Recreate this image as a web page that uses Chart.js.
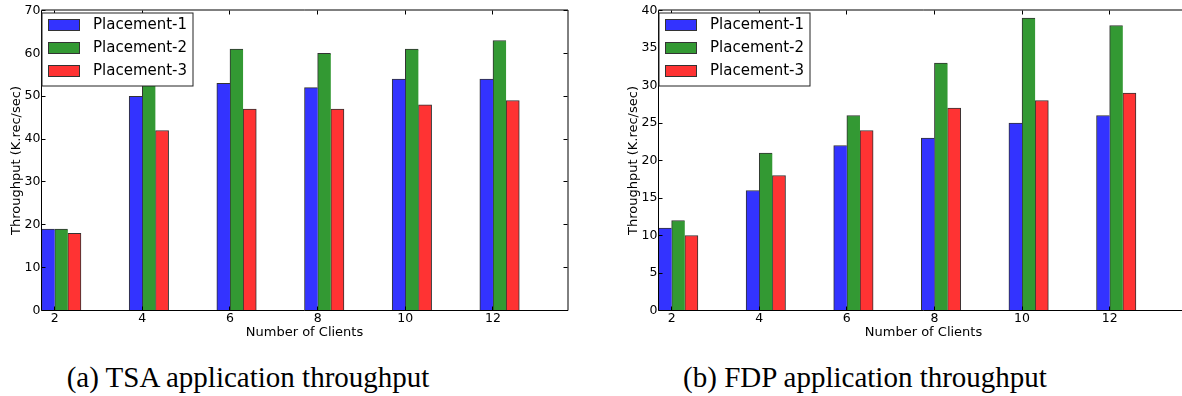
<!DOCTYPE html>
<html>
<head>
<meta charset="utf-8">
<script src="https://cdn.jsdelivr.net/npm/chart.js@4.4.1/dist/chart.umd.min.js"></script>
<style>
  html, body { margin: 0; padding: 0; background: #fff; width: 1182px; height: 396px; overflow: hidden; }
  .panel { position: absolute; top: 0; }
  .caption {
    position: absolute; top: 363px; width: 400px; text-align: center;
    font-family: "Liberation Serif", serif; font-size: 29px; line-height: 29px;
    color: #000; white-space: nowrap;
  }
</style>
</head>
<body>
<canvas id="tsaChart" class="panel" width="590" height="345" style="left:0"></canvas>
<canvas id="fdpChart" class="panel" width="594" height="345" style="left:617px"></canvas>
<div class="caption" style="left:48px">(a) TSA application throughput</div>
<div class="caption" style="left:665px">(b) FDP application throughput</div>
<script>
// data
const clients = [2, 4, 6, 8, 10, 12];
const placements = ["Placement-1", "Placement-2", "Placement-3"];

const tsaP1 = [19, 50, 53, 52, 54, 54];
const tsaP2 = [19, 57, 61, 60, 61, 63];
const tsaP3 = [18, 42, 47, 47, 48, 49];
const tsaYTicks = [0, 10, 20, 30, 40, 50, 60, 70];

const fdpP1 = [11, 16, 22, 23, 25, 26];
const fdpP2 = [12, 21, 26, 33, 39, 38];
const fdpP3 = [10, 18, 24, 27, 28, 29];
const fdpYTicks = [0, 5, 10, 15, 20, 25, 30, 35, 40];

const xTitle = "Number of Clients";
const yTitle = "Throughput (K.rec/sec)";

// styles
const colors = ["#3333ff", "#339933", "#ff3333"];
const BAR_W = 0.3; // bar width in x units (matplotlib style, edge aligned)
const tickFont = { family: "DejaVu Sans", size: 12.5 };
const titleFont = { family: "DejaVu Sans", size: 13 };

// matplotlib-like box with inward ticks + legend in the top-left corner
const framePlugin = {
  id: "frame",
  afterDraw(chart) {
    const { ctx, chartArea: a, scales: { x, y } } = chart;
    ctx.save();
    ctx.strokeStyle = "#000";
    ctx.lineWidth = 1;

    ctx.beginPath();
    for (const t of x.ticks) {
      const px = Math.floor(x.getPixelForValue(t.value)) + 0.5;
      ctx.moveTo(px, a.top);
      ctx.lineTo(px, a.top + 4);
      ctx.moveTo(px, a.bottom);
      ctx.lineTo(px, a.bottom - 4);
    }
    for (const t of y.ticks) {
      const py = Math.round(y.getPixelForValue(t.value) - 0.5) + 0.5;
      ctx.moveTo(a.left, py);
      ctx.lineTo(a.left + 4, py);
      ctx.moveTo(a.right, py);
      ctx.lineTo(a.right - 4, py);
    }
    ctx.stroke();

    // left + bottom spines (crisp), top + right (soft, like the original)
    ctx.beginPath();
    ctx.moveTo(a.left, a.top);
    ctx.lineTo(a.left, a.bottom);
    ctx.lineTo(a.right + 0.5, a.bottom);
    ctx.stroke();
    ctx.beginPath();
    ctx.moveTo(a.left, a.top - 0.5);
    ctx.lineTo(a.right + 0.5, a.top - 0.5);
    ctx.lineTo(a.right + 0.5, a.bottom);
    ctx.stroke();

    // legend
    const bx = Math.round(a.left), by = Math.round(a.top + 2.5);
    ctx.fillStyle = "#fff";
    ctx.fillRect(bx, by, 151, 73);
    ctx.strokeStyle = "#222";
    ctx.strokeRect(bx, by, 151, 73);
    ctx.font = "15px 'DejaVu Sans'";
    ctx.textBaseline = "middle";
    chart.data.datasets.forEach((ds, i) => {
      const cy = by + 12 + i * 23;
      ctx.fillStyle = ds.backgroundColor;
      ctx.fillRect(bx + 6, cy - 5.5, 31.5, 11);
      ctx.strokeStyle = "#333";
      ctx.strokeRect(bx + 6.5, cy - 5.5, 31, 11);
      ctx.fillStyle = "#000";
      ctx.fillText(ds.label, bx + 51, cy + 0.5);
    });
    ctx.restore();
  },
};

function makeChart(id, series, yTicks, xMax) {
  return new Chart(document.getElementById(id), {
    type: "bar",
    data: {
      datasets: series.map((vals, k) => ({
        label: placements[k],
        data: clients.map((c, i) => ({ x: c + (k - 0.5) * BAR_W, y: vals[i] })),
        backgroundColor: colors[k],
        borderColor: "#333",
        borderWidth: { top: 1, left: 1, right: k === series.length - 1 ? 1 : 0, bottom: 0 },
        grouped: false,
        categoryPercentage: 1,
        barPercentage: 1,
      })),
    },
    options: {
      responsive: false,
      animation: false,
      events: [],
      layout: { padding: { top: 10.5, right: 22.5, bottom: 0, left: 0 } },
      plugins: { legend: { display: false }, tooltip: { enabled: false } },
      scales: {
        x: {
          type: "linear",
          offset: false,
          min: 1.7,
          max: xMax,
          afterBuildTicks: (s) => { s.ticks = clients.map((v) => ({ value: v })); },
          afterFit: (s) => { s.height = 34.5; },
          grid: { display: false, drawTicks: false, offset: false },
          border: { display: false },
          ticks: { padding: 1, color: "#000", font: tickFont, maxRotation: 0, autoSkip: false, callback: (v) => String(v) },
          title: { display: true, text: xTitle, color: "#000", font: titleFont, padding: { top: 0, bottom: 5 } },
        },
        y: {
          min: yTicks[0],
          max: yTicks[yTicks.length - 1],
          afterBuildTicks: (s) => { s.ticks = yTicks.map((v) => ({ value: v })); },
          afterFit: (s) => { s.width = 41.5; },
          grid: { display: false, drawTicks: false },
          border: { display: false },
          ticks: { padding: 1, color: "#000", font: tickFont, callback: (v) => String(v) },
          title: { display: true, text: yTitle, color: "#000", font: titleFont, padding: { top: 9, bottom: 0 } },
        },
      },
    },
    plugins: [framePlugin],
  });
}

makeChart("tsaChart", [tsaP1, tsaP2, tsaP3], tsaYTicks, 13.7);
makeChart("fdpChart", [fdpP1, fdpP2, fdpP3], fdpYTicks, 13.8);
</script>
</body>
</html>
